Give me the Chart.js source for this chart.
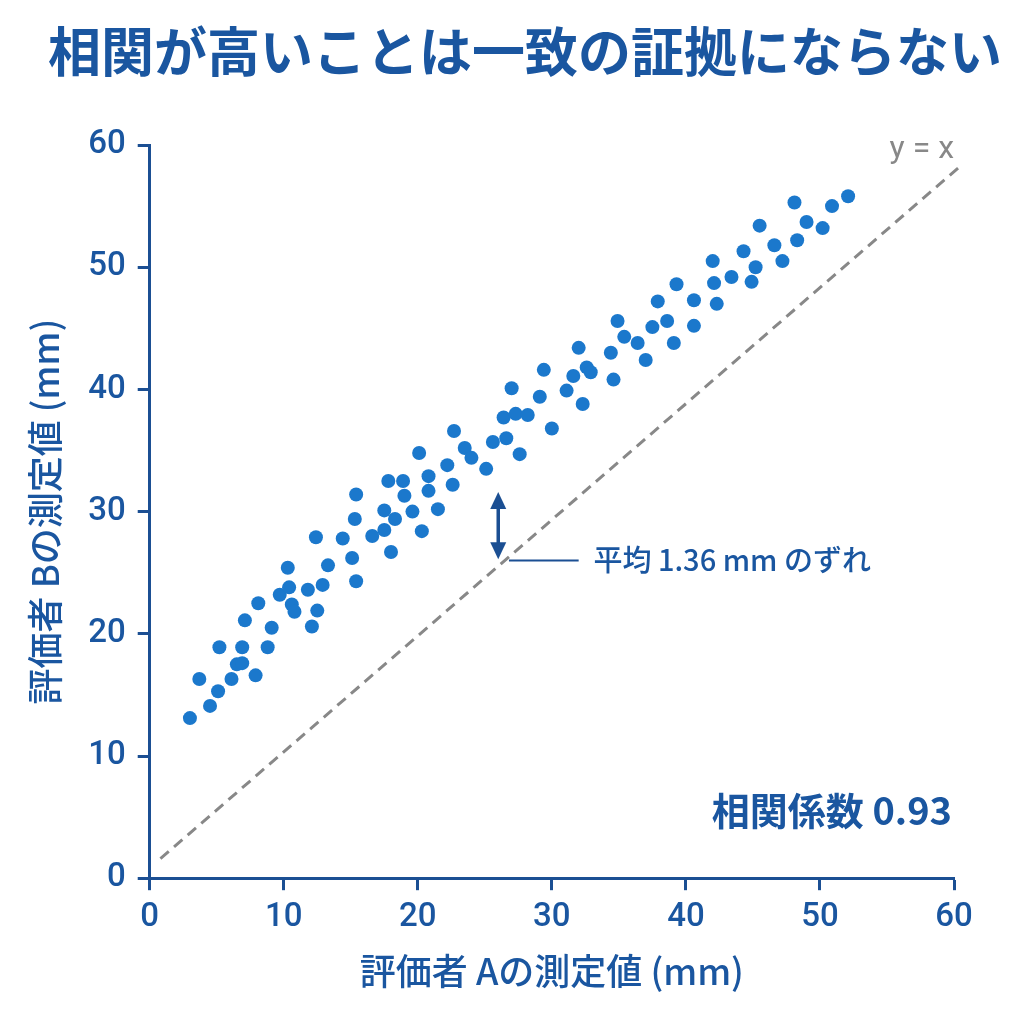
<!DOCTYPE html>
<html lang="ja">
<head>
<meta charset="utf-8">
<script src="https://cdn.jsdelivr.net/npm/chart.js@4.4.1/dist/chart.umd.min.js"></script>
<style>
html, body { margin: 0; padding: 0; background: #fff; }
#wrap { width: 1024px; height: 1024px; }
</style>
</head>
<body>
<div id="wrap"><canvas id="myChart" width="1024" height="1024"></canvas></div>
<script>
// 評価者A / 評価者B の測定値 (mm)
const raterA = [3.0, 3.7, 4.5, 5.1, 5.2, 6.1, 6.5, 6.9, 6.9, 7.1, 7.9, 8.1, 8.8, 9.1, 9.7, 10.3, 10.4, 10.6, 10.8,
  12.1, 11.8, 12.4, 12.5, 12.9, 13.3, 14.4, 15.1, 15.3, 15.4, 15.4, 16.6, 17.5, 17.8, 17.5, 18.0, 18.3, 18.9, 19.0,
  19.6, 20.1, 20.3, 20.8, 20.8, 21.5, 22.2, 22.6, 22.7, 23.5, 24.0, 25.1, 25.6, 26.4, 26.6, 27.0, 27.3, 27.6, 28.2,
  29.1, 29.4, 30.0, 31.1, 31.6, 32.0, 32.3, 32.6, 32.9, 34.6, 34.4, 34.9, 35.4, 36.4, 37.0, 37.5, 37.9, 38.6, 39.1,
  39.3, 40.6, 40.6, 42.0, 42.1, 42.3, 43.4, 44.3, 44.9, 45.2, 45.5, 46.6, 47.2, 48.1, 48.3, 49.0, 50.2, 50.9, 52.1];
const raterB = [13.1, 16.3, 14.1, 15.3, 18.9, 16.3, 17.5, 17.6, 18.9, 21.1, 16.6, 22.5, 18.9, 20.5, 23.2, 25.4, 23.8, 22.4, 21.8,
  20.6, 23.6, 27.9, 21.9, 24.0, 25.6, 27.8, 26.2, 29.4, 31.4, 24.3, 28.0, 30.1, 32.5, 28.5, 26.7, 29.4, 32.5, 31.3,
  30.0, 34.8, 28.4, 31.7, 32.9, 30.2, 33.8, 32.2, 36.6, 35.2, 34.4, 33.5, 35.7, 37.7, 36.0, 40.1, 38.0, 34.7, 37.9,
  39.4, 41.6, 36.8, 39.9, 41.1, 43.4, 38.8, 41.8, 41.4, 40.8, 43.0, 45.6, 44.3, 43.8, 42.4, 45.1, 47.2, 45.6, 43.8,
  48.6, 47.3, 45.2, 50.5, 48.7, 47.0, 49.2, 51.3, 48.8, 50.0, 53.4, 51.8, 50.5, 55.3, 52.2, 53.7, 53.2, 55.0, 55.8];

// 参照線 y = x (図に描かれている通りの端点)
const refLineX = [0.8, 60.4];
const refLineY = [1.6, 58.2];

// 平均のずれの矢印
const offsetArrowX = 26.0;
const offsetArrowTop = 31.6;
const offsetArrowBottom = 26.1;
const offsetLabelY = 26.0;
const offsetLeaderFrom = 26.8;
const offsetLeaderTo = 32.0;
const offsetLabelX = 33.1;
const offsetLabel = '平均 1.36 mm のずれ';

const chartTitle = '相関が高いことは一致の証拠にならない';
const corrLabel = '相関係数 0.93';
const corrLabelY = 5.5;

const axisMin = 0;
const axisMax = 60;
const tickStep = 10;

const axisBlue = '#1b4f93';
const textBlue = '#1a56a0';
const dotBlue = '#1b78cc';
const fontFamily = 'Roboto, "Noto Sans", "Noto Sans CJK JP", sans-serif';
const cjkFamily = '"Noto Sans CJK JP", "Noto Sans", sans-serif';

const points = raterA.map((a, i) => ({ x: a, y: raterB[i] }));
const refLine = refLineX.map((a, i) => ({ x: a, y: refLineY[i] }));

const annotations = {
    id: 'annotations',
    afterDatasetsDraw(chart) {
        const { ctx, scales: { x, y } } = chart;
        ctx.save();

        // タイトル
        ctx.font = 'bold 53px ' + cjkFamily;
        ctx.fillStyle = textBlue;
        ctx.textAlign = 'center';
        ctx.textBaseline = 'middle';
        ctx.fillText(chartTitle, 525, 52);

        // 矢印
        const ax = x.getPixelForValue(offsetArrowX);
        const top = y.getPixelForValue(offsetArrowTop);
        const bottom = y.getPixelForValue(offsetArrowBottom);
        const head = 16;
        ctx.strokeStyle = axisBlue;
        ctx.fillStyle = axisBlue;
        ctx.lineWidth = 3.5;
        ctx.beginPath();
        ctx.moveTo(ax, top + head);
        ctx.lineTo(ax, bottom - head);
        ctx.stroke();
        ctx.beginPath();
        ctx.moveTo(ax, top);
        ctx.lineTo(ax - 8, top + head + 1);
        ctx.lineTo(ax + 8, top + head + 1);
        ctx.closePath();
        ctx.fill();
        ctx.beginPath();
        ctx.moveTo(ax, bottom);
        ctx.lineTo(ax - 8, bottom - head - 1);
        ctx.lineTo(ax + 8, bottom - head - 1);
        ctx.closePath();
        ctx.fill();

        // 引き出し線
        const ly = y.getPixelForValue(offsetLabelY);
        ctx.lineWidth = 2;
        ctx.beginPath();
        ctx.moveTo(x.getPixelForValue(offsetLeaderFrom), ly);
        ctx.lineTo(x.getPixelForValue(offsetLeaderTo), ly);
        ctx.stroke();

        ctx.font = '500 29px ' + cjkFamily;
        ctx.fillStyle = textBlue;
        ctx.textAlign = 'left';
        ctx.fillText(offsetLabel, x.getPixelForValue(offsetLabelX), ly);

        // 相関係数
        ctx.font = 'bold 38px ' + cjkFamily;
        ctx.textAlign = 'right';
        ctx.fillText(corrLabel, x.getPixelForValue(axisMax) - 2, y.getPixelForValue(corrLabelY));

        // y = x
        ctx.font = '32px ' + fontFamily;
        ctx.fillStyle = '#888888';
        ctx.fillText('y = x', x.getPixelForValue(axisMax), y.getPixelForValue(59.6));

        ctx.restore();
    }
};

const config = {
    type: 'scatter',
    data: {
        datasets: [{
            label: 'y = x',
            data: refLine,
            type: 'line',
            borderColor: '#888888',
            borderWidth: 3,
            borderDash: [11, 7],
            pointRadius: 0,
            fill: false,
            clip: false,
            order: 2
        }, {
            label: '測定値',
            data: points,
            backgroundColor: dotBlue,
            borderColor: dotBlue,
            borderWidth: 0,
            pointRadius: 7,
            order: 1
        }]
    },
    options: {
        responsive: false,
        animation: false,
        devicePixelRatio: 1,
        layout: {
            padding: { left: 18, right: 70, top: 145, bottom: 25 }
        },
        plugins: {
            legend: { display: false },
            tooltip: { enabled: false },
            title: { display: false }
        },
        scales: {
            x: {
                type: 'linear',
                min: axisMin,
                max: axisMax,
                ticks: {
                    stepSize: tickStep,
                    color: textBlue,
                    padding: 8,
                    font: { family: fontFamily, size: 33, weight: '500' }
                },
                grid: {
                    drawOnChartArea: false,
                    drawTicks: true,
                    tickLength: 12,
                    tickWidth: 3,
                    color: axisBlue
                },
                border: { display: true, color: axisBlue, width: 3 },
                title: {
                    display: true,
                    text: '評価者 Aの測定値 (mm)',
                    color: textBlue,
                    font: { family: cjkFamily, size: 36, weight: '500' },
                    padding: { top: 4, bottom: 6 }
                }
            },
            y: {
                type: 'linear',
                min: axisMin,
                max: axisMax,
                ticks: {
                    stepSize: tickStep,
                    color: textBlue,
                    padding: 12,
                    font: { family: fontFamily, size: 33, weight: '500' }
                },
                grid: {
                    drawOnChartArea: false,
                    drawTicks: true,
                    tickLength: 12,
                    tickWidth: 3,
                    color: axisBlue
                },
                border: { display: true, color: axisBlue, width: 3 },
                title: {
                    display: true,
                    text: '評価者 Bの測定値 (mm)',
                    color: textBlue,
                    font: { family: cjkFamily, size: 36, weight: '500' },
                    padding: { top: 6, bottom: 9 }
                }
            }
        }
    },
    plugins: [annotations]
};

const myChart = new Chart(
    document.getElementById('myChart'),
    config
);
</script>
</body>
</html>
